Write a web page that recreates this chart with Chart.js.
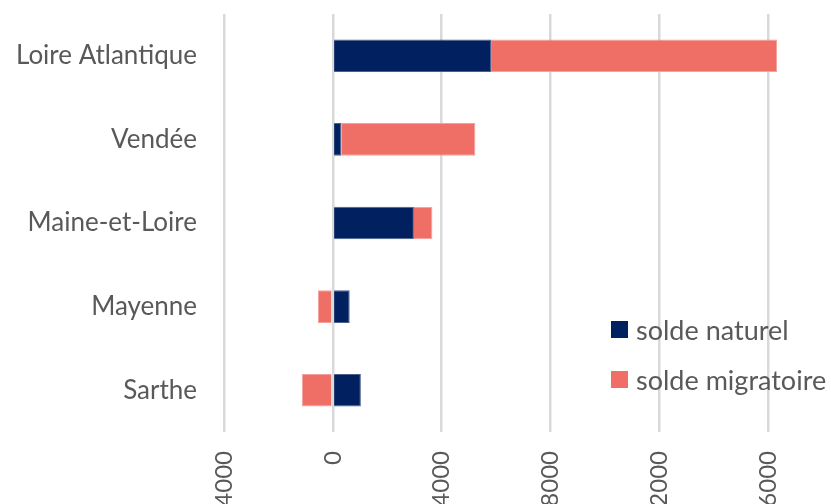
<!DOCTYPE html>
<html>
<head>
<meta charset="utf-8">
<script src="https://cdn.jsdelivr.net/npm/chart.js@4/dist/chart.umd.min.js"></script>
<style>
  html, body { margin: 0; padding: 0; background: #fff; overflow: hidden; width: 831px; height: 504px; }
  #wrap { position: absolute; left: 0; top: 0; width: 900px; height: 540px; }
  #legend { position: absolute; left: 611px; top: 312px; font-family: Lato, sans-serif; font-size: 27px; color: #595959; }
  .item { display: flex; align-items: center; height: 34px; margin-bottom: 16px; white-space: nowrap; }
  .box { width: 17px; height: 17px; margin-right: 8px; }
</style>
</head>
<body>
<div id="wrap"><canvas id="chart" width="900" height="540"></canvas></div>
<div id="legend"></div>
<script>
// départements
const departements = ["Loire Atlantique", "Vendée", "Maine-et-Loire", "Mayenne", "Sarthe"];

// soldes
const soldeNaturel = [5815, 320, 2980, 620, 1030];
const soldeMigratoire = [10515, 4920, 680, -550, -1140];

// graduations de l'axe
const axisMin = -4000;
const axisMax = 20000;
const axisStep = 4000;

const colNaturel = "#00205f";
const colMigratoire = "#ef6e65";
const textColor = "#595959";
const fontFamily = "Lato, sans-serif";

// pas de marge auto autour des axes, la mise en page est fixée à la main
function noPadding(scale) {
  scale.paddingTop = 0;
  scale.paddingBottom = 0;
  scale.paddingLeft = 0;
  scale.paddingRight = 0;
}

const ctx = document.getElementById("chart").getContext("2d");
const chart = new Chart(ctx, {
  type: "bar",
  data: {
    labels: departements,
    datasets: [
      {
        label: "solde naturel",
        data: soldeNaturel,
        backgroundColor: colNaturel,
        borderColor: "#4a5f8c",
        borderWidth: 1,
        barPercentage: 0.39,
        categoryPercentage: 1,
      },
      {
        label: "solde migratoire",
        data: soldeMigratoire,
        backgroundColor: colMigratoire,
        borderColor: "#f4a09a",
        borderWidth: 1,
        barPercentage: 0.39,
        categoryPercentage: 1,
      },
    ],
  },
  options: {
    indexAxis: "y",
    responsive: false,
    animation: false,
    devicePixelRatio: 1,
    layout: { padding: { top: 14, right: 23, left: 0, bottom: 0 } },
    scales: {
      x: {
        type: "linear",
        stacked: true,
        min: axisMin,
        max: axisMax,
        ticks: {
          stepSize: axisStep,
          minRotation: 90,
          maxRotation: 90,
          padding: 19,
          color: textColor,
          font: { family: fontFamily, size: 24 },
          callback: (v) => String(v),
        },
        grid: { color: "#d9d9d9", lineWidth: 2.5, drawTicks: false },
        border: { display: false },
        afterFit: (scale) => { scale.height = 108; noPadding(scale); },
      },
      y: {
        stacked: true,
        ticks: {
          padding: 27,
          color: textColor,
          font: { family: fontFamily, size: 26 },
        },
        grid: { display: false, drawTicks: false },
        border: { display: false },
        afterFit: (scale) => { scale.width = 224; noPadding(scale); },
      },
    },
    plugins: {
      legend: { display: false },
      tooltip: { enabled: false },
    },
  },
});

// légende HTML
const legendBox = document.getElementById("legend");
chart.data.datasets.forEach((ds) => {
  const item = document.createElement("div");
  item.className = "item";
  item.innerHTML = `<span class="box" style="background:${ds.backgroundColor}"></span><span>${ds.label}</span>`;
  legendBox.appendChild(item);
});
</script>
</body>
</html>
